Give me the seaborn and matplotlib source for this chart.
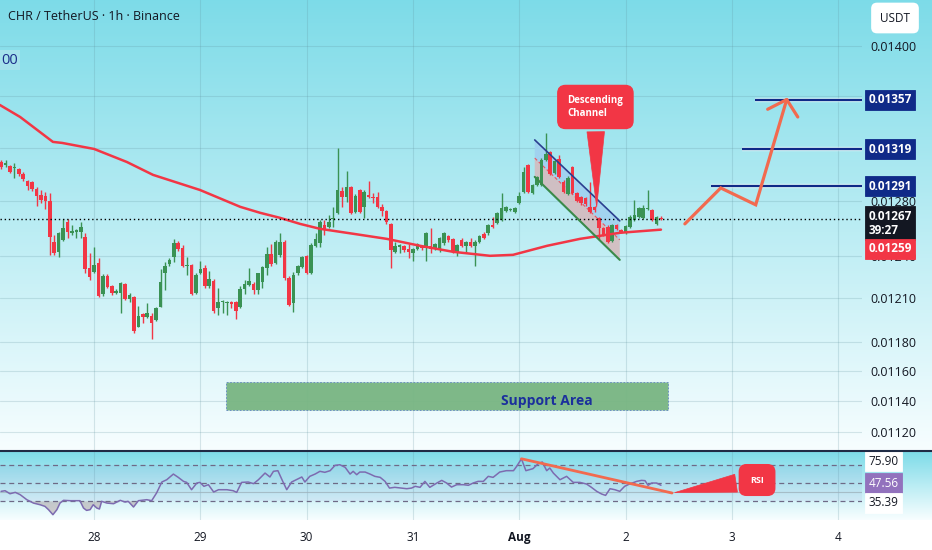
import numpy as np
import pandas as pd
import matplotlib
matplotlib.use("Agg")
import matplotlib.pyplot as plt
import matplotlib.dates as mdates
import matplotlib.patheffects as pe
from matplotlib.patches import Polygon, Rectangle
from matplotlib.lines import Line2D
from matplotlib.ticker import NullLocator, NullFormatter
import seaborn as sns

sns.set_style("white")
plt.rcParams["font.family"] = ["Open Sans", "DejaVu Sans"]

## CHR / USDT 1h candles
start = pd.Timestamp("2023-07-27 03:00")

opens = [0.013092, 0.013070, 0.013062, 0.013047, 0.013040, 0.013002, 0.012950, 0.012942, 0.012890, 0.012845,
         0.012838, 0.012801, 0.012502, 0.012430, 0.012516, 0.012647, 0.012567, 0.012574, 0.012574, 0.012538,
         0.012315, 0.012287, 0.012351, 0.012132, 0.012258, 0.012188, 0.012139, 0.012139, 0.012202, 0.012097,
         0.012111, 0.011903, 0.011992, 0.011972, 0.011979, 0.011951, 0.012041, 0.012280, 0.012344, 0.012394,
         0.012494, 0.012458, 0.012329, 0.012337, 0.012139, 0.012280, 0.012315, 0.012188, 0.012223, 0.012034,
         0.012076, 0.012069, 0.012076, 0.012076, 0.012041, 0.012167, 0.012195, 0.012202, 0.012160, 0.012216,
         0.012315, 0.012415, 0.012351, 0.012408, 0.012502, 0.012244, 0.012069, 0.012280, 0.012322, 0.012401,
         0.012280, 0.012473, 0.012494, 0.012625, 0.012610, 0.012668, 0.012713, 0.012875, 0.012830, 0.012905,
         0.012720, 0.012882, 0.012757, 0.012845, 0.012830, 0.012830, 0.012757, 0.012728, 0.012632, 0.012430,
         0.012466, 0.012473, 0.012451, 0.012422, 0.012451, 0.012473, 0.012458, 0.012473, 0.012458, 0.012444,
         0.012494, 0.012545, 0.012523, 0.012422, 0.012516, 0.012473, 0.012502, 0.012473, 0.012502, 0.012560,
         0.012567, 0.012625, 0.012639, 0.012661, 0.012728, 0.012735, 0.012720, 0.012786, 0.012867, 0.013070,
         0.012860, 0.012920, 0.012920, 0.013107, 0.013168, 0.013010, 0.013115, 0.012942, 0.012852, 0.013055,
         0.012860, 0.012830, 0.012823, 0.012757, 0.012757, 0.012676, 0.012603, 0.012610, 0.012509, 0.012625,
         0.012589, 0.012567, 0.012610, 0.012661, 0.012683, 0.012676, 0.012742, 0.012735, 0.012632, 0.012676]
highs = [0.013107, 0.013107, 0.013070, 0.013085, 0.013047, 0.013017, 0.012957, 0.012950, 0.012905, 0.012882,
         0.012867, 0.012860, 0.012553, 0.012574, 0.012668, 0.012668, 0.012625, 0.012596, 0.012647, 0.012567,
         0.012422, 0.012466, 0.012386, 0.012273, 0.012273, 0.012195, 0.012167, 0.012216, 0.012209, 0.012139,
         0.012118, 0.012048, 0.011999, 0.012069, 0.011999, 0.012041, 0.012308, 0.012358, 0.012386, 0.012523,
         0.012509, 0.012480, 0.012394, 0.012344, 0.012280, 0.012365, 0.012337, 0.012294, 0.012237, 0.012174,
         0.012090, 0.012083, 0.012083, 0.012083, 0.012188, 0.012230, 0.012315, 0.012216, 0.012280, 0.012329,
         0.012466, 0.012487, 0.012516, 0.012567, 0.012516, 0.012258, 0.012287, 0.012337, 0.012401, 0.012408,
         0.012494, 0.012567, 0.012661, 0.012661, 0.012698, 0.012757, 0.013198, 0.012905, 0.013025, 0.012912,
         0.012852, 0.012890, 0.012882, 0.012950, 0.012860, 0.012867, 0.012779, 0.012735, 0.012639, 0.012502,
         0.012487, 0.012480, 0.012487, 0.012458, 0.012494, 0.012480, 0.012574, 0.012603, 0.012494, 0.012538,
         0.012574, 0.012553, 0.012531, 0.012487, 0.012531, 0.012509, 0.012531, 0.012516, 0.012553, 0.012574,
         0.012632, 0.012683, 0.012720, 0.012860, 0.012764, 0.012750, 0.012757, 0.012867, 0.013055, 0.013077,
         0.012927, 0.012987, 0.013122, 0.013313, 0.013175, 0.013107, 0.013145, 0.012957, 0.012987, 0.013062,
         0.012867, 0.012838, 0.012830, 0.012942, 0.012764, 0.012683, 0.012610, 0.012625, 0.012632, 0.012632,
         0.012596, 0.012625, 0.012698, 0.012808, 0.012757, 0.012772, 0.012882, 0.012742, 0.012691, 0.012691]
lows = [0.013040, 0.013055, 0.013010, 0.012972, 0.012987, 0.012950, 0.012882, 0.012875, 0.012764, 0.012786,
        0.012742, 0.012408, 0.012408, 0.012394, 0.012509, 0.012531, 0.012553, 0.012531, 0.012531, 0.012280,
        0.012230, 0.012280, 0.012111, 0.012118, 0.012174, 0.012125, 0.012132, 0.011999, 0.012090, 0.012076,
        0.011862, 0.011903, 0.011930, 0.011965, 0.011821, 0.011944, 0.012041, 0.012160, 0.012329, 0.012358,
        0.012437, 0.012322, 0.012266, 0.012125, 0.012132, 0.012273, 0.012174, 0.012174, 0.011999, 0.011986,
        0.011999, 0.011986, 0.012034, 0.011958, 0.012034, 0.012132, 0.012188, 0.012132, 0.012132, 0.012174,
        0.012266, 0.012329, 0.012344, 0.012394, 0.012230, 0.012048, 0.012006, 0.012266, 0.012315, 0.012273,
        0.012273, 0.012466, 0.012466, 0.012553, 0.012603, 0.012610, 0.012705, 0.012757, 0.012793, 0.012705,
        0.012713, 0.012713, 0.012676, 0.012823, 0.012786, 0.012750, 0.012691, 0.012632, 0.012315, 0.012422,
        0.012422, 0.012430, 0.012386, 0.012365, 0.012444, 0.012444, 0.012365, 0.012422, 0.012444, 0.012430,
        0.012480, 0.012502, 0.012422, 0.012401, 0.012466, 0.012422, 0.012466, 0.012329, 0.012494, 0.012523,
        0.012553, 0.012603, 0.012632, 0.012654, 0.012720, 0.012728, 0.012713, 0.012779, 0.012860, 0.012860,
        0.012852, 0.012912, 0.012912, 0.013100, 0.012995, 0.013002, 0.012972, 0.012860, 0.012845, 0.012852,
        0.012793, 0.012772, 0.012764, 0.012713, 0.012720, 0.012516, 0.012545, 0.012494, 0.012502, 0.012589,
        0.012567, 0.012560, 0.012603, 0.012654, 0.012676, 0.012668, 0.012735, 0.012654, 0.012625, 0.012661]
closes = [0.013055, 0.013085, 0.013017, 0.013055, 0.013002, 0.012965, 0.012912, 0.012890, 0.012838, 0.012808,
          0.012801, 0.012538, 0.012422, 0.012567, 0.012603, 0.012574, 0.012582, 0.012589, 0.012610, 0.012308,
          0.012251, 0.012337, 0.012118, 0.012258, 0.012181, 0.012139, 0.012153, 0.012209, 0.012097, 0.012125,
          0.011876, 0.011979, 0.011972, 0.011999, 0.011930, 0.012034, 0.012216, 0.012329, 0.012372, 0.012494,
          0.012451, 0.012329, 0.012337, 0.012132, 0.012266, 0.012308, 0.012188, 0.012237, 0.012013, 0.012076,
          0.012083, 0.012076, 0.012062, 0.012013, 0.012167, 0.012202, 0.012223, 0.012160, 0.012280, 0.012322,
          0.012415, 0.012344, 0.012502, 0.012502, 0.012244, 0.012055, 0.012266, 0.012329, 0.012394, 0.012280,
          0.012480, 0.012523, 0.012647, 0.012589, 0.012647, 0.012676, 0.012882, 0.012830, 0.012905, 0.012713,
          0.012838, 0.012720, 0.012867, 0.012830, 0.012823, 0.012757, 0.012728, 0.012647, 0.012444, 0.012473,
          0.012480, 0.012444, 0.012430, 0.012451, 0.012487, 0.012458, 0.012567, 0.012451, 0.012487, 0.012531,
          0.012567, 0.012516, 0.012437, 0.012480, 0.012473, 0.012502, 0.012473, 0.012502, 0.012545, 0.012531,
          0.012625, 0.012610, 0.012713, 0.012750, 0.012757, 0.012742, 0.012750, 0.012838, 0.013017, 0.012867,
          0.012920, 0.012980, 0.013107, 0.013153, 0.013002, 0.013100, 0.012980, 0.012867, 0.012972, 0.012860,
          0.012801, 0.012786, 0.012779, 0.012720, 0.012735, 0.012603, 0.012553, 0.012502, 0.012625, 0.012596,
          0.012574, 0.012618, 0.012683, 0.012698, 0.012750, 0.012750, 0.012750, 0.012661, 0.012683, 0.012670]

# red moving average (hours after start, price)
ma_hours = [-0.3, 4.3, 11.7, 13.8, 21, 28.4, 34.3, 44.9, 54, 58.5, 63, 67.5, 72, 79.5, 87.1, 94.6, 102,
            110.4, 115.6, 123.3, 130.7, 139.7, 149]
ma_vals = [0.013531, 0.013437, 0.013245, 0.013237, 0.013191, 0.013092, 0.012995, 0.012882, 0.012757, 0.012713,
           0.012676, 0.012632, 0.012596, 0.012560, 0.012523, 0.012473, 0.012430, 0.012401, 0.012408, 0.012473,
           0.012523, 0.012567, 0.012590]

# RSI
rsi_hours = [0, 0.9, 2.0, 3.2, 4.3, 5.8, 7.3, 8.8, 9.9, 10.7, 11.7, 12.6, 13.3, 14.1, 15.6, 17.8, 18.6, 19.3,
             20.1, 20.8, 21.6, 22.2, 22.7, 23.9, 25.4, 26.9, 28.0, 28.7, 29.9, 31.0, 32.9, 34.0, 35.1, 36.3,
             37.4, 38.9, 40.0, 41.2, 41.9, 43.0, 44.2, 44.9, 45.8, 46.8, 48.0, 49.1, 51.0, 52.4, 53.2, 54.3,
             55.8, 57.0, 58.1, 59.6, 60.7, 61.5, 62.5, 63.6, 64.5, 65.6, 67.1, 67.9, 68.6, 69.7, 70.9, 72.0,
             73.1, 74.3, 75.4, 76.5, 77.7, 78.8, 79.5, 80.3, 81.0, 82.2, 83.3, 84.4, 85.6, 86.7, 87.7, 88.9,
             90.4, 91.6, 92.7, 93.5, 94.6, 95.7, 96.8, 98.4, 99.5, 100.6, 101.7, 102.9, 104.4, 105.5, 106.6,
             107.7, 108.9, 110.0, 111.1, 112.6, 114.1, 115.7, 116.4, 117.5, 118.5, 120.1, 121.2, 122.2, 123.2,
             123.9, 124.7, 126.2, 127.7, 129.2, 130.7, 132.2, 133.3, 134.5, 135.6, 136.5, 137.5, 138.6, 139.7,
             140.8, 141.9, 143.5, 144.6, 145.4, 146.1, 146.9, 148.0, 149.0]
rsi_vals = [40.9, 41.6, 38.3, 39.8, 37.3, 31.8, 28.1, 26.3, 24.5, 20.9, 15.4, 20.9, 28.1, 31.1, 30.7, 30.7, 22.7,
            20.1, 20.9, 26.3, 22.7, 21.6, 30.0, 28.1, 27.4, 31.1, 29.2, 30.0, 23.8, 30.7, 31.8, 30.7, 39.1, 51.1,
            53.6, 59.8, 56.2, 51.8, 50.7, 42.7, 50.0, 50.7, 46.4, 48.2, 40.2, 42.7, 42.7, 41.6, 39.8, 50.7, 51.1,
            49.3, 53.6, 60.9, 56.6, 62.8, 63.5, 51.8, 42.7, 51.1, 54.7, 56.6, 51.1, 57.3, 59.8, 62.8, 61.7, 63.5,
            69.3, 70.0, 67.1, 59.8, 62.8, 59.1, 62.0, 62.0, 59.8, 57.3, 56.2, 51.8, 44.5, 45.3, 44.5, 43.8, 44.5,
            46.4, 45.3, 51.8, 45.3, 50.0, 52.9, 50.0, 45.6, 48.2, 48.2, 47.5, 50.0, 51.8, 51.8, 57.3, 56.2, 62.0,
            63.5, 63.5, 68.1, 76.5, 63.5, 65.7, 70.8, 73.0, 63.5, 66.4, 60.9, 53.6, 57.3, 50.7, 50.7, 48.9, 45.3,
            40.9, 38.0, 36.5, 43.8, 42.7, 40.9, 46.4, 48.9, 51.8, 52.9, 52.6, 47.5, 50.0, 50.0, 47.6]
rsi_levels = [70, 50, 30]
rsi_badges = [75.90, 47.56, 35.39]
rsi_trend_hours = [117.5, 151.5]
rsi_trend_vals = [76.5, 39.1]

# drawings
last_price = 0.01267
ma_last = 0.01259
targets = [0.01357, 0.01319, 0.01291]
target_from = [170.2, 167.3, 160.3]
support_hours = [50.8, 150.6]
support_prices = [0.011343, 0.011528]
channel_hours = [120.5, 139.7]
channel_top = [0.013260, 0.012654]
channel_mid = [0.013122, 0.012516]
channel_bot = [0.012980, 0.012372]
proj_hours = [154.4, 162.5, 170.4, 177.4]
proj_prices = [0.012632, 0.012897, 0.012772, 0.013573]
head_hours = [173.1, 177.4, 179.9]
head_prices = [0.013497, 0.013573, 0.013437]

price_ticks = [0.0140, 0.0136, 0.0132, 0.0128, 0.0124, 0.0121, 0.0118, 0.0116, 0.0114, 0.0112]
price_labels = ["0.01400", "", "", "0.01280", "0.01240", "0.01210", "0.01180", "0.01160", "0.01140", "0.01120"]

GREEN = "#3a9254"
RED = "#f23645"
NAVY = "#0f2a88"
CORAL = "#f26a4f"
INK = "#131722"


def hx(h):
    return mdates.date2num(start) + np.asarray(h, dtype=float) / 24.0


W, H = 932, 550
fig = plt.figure(figsize=(W / 100, H / 100), dpi=100)

## background gradient (main pane, rsi pane, date strip)
top_c = np.array([0.49, 0.86, 0.91])
bot_c = np.array([0.97, 0.995, 1.0])
def vgrad(n):
    t = np.linspace(0, 1, n)[:, None]
    return top_c * (1 - t) + bot_c * t
bg_img = np.vstack([vgrad(451), vgrad(69), np.ones((30, 3))])[:, None, :]
bg = fig.add_axes([0, 0, 1, 1], zorder=-1)
bg.imshow(bg_img, aspect="auto", extent=[0, 1, 0, 1], interpolation="bilinear")
bg.set_axis_off()

ax = fig.add_axes([0, 99 / H, 862 / W, 451 / H])
axr = fig.add_axes([0, 30 / H, 862 / W, 69 / H], sharex=ax)
for a in (ax, axr):
    a.set_facecolor("none")
    for s in a.spines.values():
        s.set_visible(False)

## candles
x = hx(np.arange(len(closes)))
o, hi, lo, c = map(np.array, (opens, highs, lows, closes))
cols = np.where(c >= o, GREEN, RED)
ax.vlines(x, lo, hi, colors=cols, lw=1.0, zorder=3)
ax.bar(x, np.maximum(np.abs(c - o), 0.000006), bottom=np.minimum(o, c), width=0.8 / 24,
       color=cols, linewidth=0, zorder=4)

sns.lineplot(x=hx(ma_hours), y=ma_vals, ax=ax, color=RED, lw=1.8, sort=False, zorder=5)

ax.set_yscale("log")
ax.set_ylim(0.011078, 0.014377)
ax.set_xlim(hx(-0.25), hx(194.4))
ax.yaxis.tick_right()
ax.set_yticks(price_ticks)
ax.set_yticklabels(price_labels)
ax.yaxis.set_minor_locator(NullLocator())
ax.yaxis.set_minor_formatter(NullFormatter())
ax.tick_params(axis="y", length=0, pad=6, labelsize=9, labelcolor=INK)
ax.tick_params(axis="x", length=0, labelbottom=False)
ax.set_xlabel("")
ax.set_ylabel("")
ax.grid(True, color="#5f8f9b", alpha=0.22, lw=0.8)

# current price dotted line
ax.axhline(last_price, color="black", lw=1.0, ls=(0, (1, 2)), zorder=6)

## descending channel (fill behind the candles)
ch_x = hx(channel_hours)
ax.add_patch(Polygon([(ch_x[0], channel_top[0]), (ch_x[1], channel_top[1]),
                      (ch_x[1], channel_mid[1]), (ch_x[0], channel_mid[0])],
                     closed=True, fc="#9fcff0", alpha=0.85, lw=0, zorder=2))
ax.add_patch(Polygon([(ch_x[0], channel_mid[0]), (ch_x[1], channel_mid[1]),
                      (ch_x[1], channel_bot[1]), (ch_x[0], channel_bot[0])],
                     closed=True, fc="#d6b8bb", alpha=0.85, lw=0, zorder=2))
ax.plot(ch_x, channel_top, color="#2b3f8f", lw=1.2, zorder=6)
ax.plot(ch_x, channel_bot, color="#3a8a4a", lw=1.5, zorder=6)
ax.plot(ch_x, channel_mid, color=RED, lw=0.8, ls=(0, (3, 2)), alpha=0.8, zorder=2.5)

ax.annotate("Descending\nChannel", xy=(hx(134.5), 0.012735), xytext=(hx(134.2), 0.013515),
            ha="center", va="center", multialignment="left", fontsize=7, color="white",
            weight="bold", linespacing=1.2, zorder=8,
            bbox=dict(boxstyle="round,pad=1.0,rounding_size=0.8", fc=RED, ec=RED),
            arrowprops=dict(arrowstyle="wedge,tail_width=1.8,shrink_factor=0.5", fc=RED, ec=RED, lw=0.5))

## targets and projection
for p, h0 in zip(targets, target_from):
    ax.hlines(p, hx(h0), hx(200), color=NAVY, lw=1.6, zorder=6,
              path_effects=[pe.withStroke(linewidth=3.2, foreground="white", alpha=0.55)])
ax.plot(hx(proj_hours), proj_prices, color=CORAL, lw=2.3, solid_capstyle="round",
        solid_joinstyle="miter", zorder=7)
ax.plot(hx(head_hours), head_prices, color=CORAL, lw=2.3, solid_capstyle="round", zorder=7)

## support area
ax.add_patch(Rectangle((hx(support_hours[0]), support_prices[0]),
                       hx(support_hours[1]) - hx(support_hours[0]),
                       support_prices[1] - support_prices[0],
                       fc="#78b582", ec="#5b7fc4", lw=0.6, ls=(0, (2, 2)), alpha=0.95, zorder=4))
ax.text(hx(123.3), 0.011403, "Support Area", ha="center", va="center", fontsize=10,
        weight="bold", color="#1b2f9c", zorder=6)

## price badges
def badge(axis, val, text, fc, tc, dy=0, size=8.5, bold=True, ec=None):
    axis.annotate(text, xy=(1, val), xycoords=("axes fraction", "data"),
                  xytext=(4.5, dy), textcoords="offset points", ha="left", va="center",
                  fontsize=size, color=tc, weight="bold" if bold else "normal",
                  linespacing=1.05, annotation_clip=False, zorder=10,
                  bbox=dict(boxstyle="square,pad=0.3", fc=fc, ec=ec or fc, lw=0.6))

for p in targets:
    badge(ax, p, f"{p:.5f}", NAVY, "white")
badge(ax, last_price, "0.01267\n39:27", INK, "white", dy=-3.3)
badge(ax, ma_last, f"{ma_last:.5f}", RED, "white", dy=-13.7)

## RSI pane
rx = hx(rsi_hours)
rv = np.array(rsi_vals)
axr.axhspan(30, 70, color="#7e57c2", alpha=0.07, lw=0)
axr.axhline(40, color="#9fb3bd", lw=0.8, alpha=0.8)
for lv in rsi_levels:
    axr.axhline(lv, color="#6e6a86", lw=0.9, ls=(0, (4, 3)))
axr.fill_between(rx, rv, 30, where=rv < 30, interpolate=True, color="#a99393", alpha=0.45, lw=0)
sns.lineplot(x=rx, y=rv, ax=axr, color="#7d6bb0", lw=1.1, sort=False, zorder=4)
axr.plot(hx(rsi_trend_hours), rsi_trend_vals, color=CORAL, lw=2.0, zorder=5)
axr.annotate("RSI", xy=(hx(rsi_trend_hours[1]), rsi_trend_vals[1]), xytext=(hx(170.7), 53.3),
             ha="center", va="center", fontsize=6.5, color="white", weight="bold", zorder=8,
             bbox=dict(boxstyle="round,pad=1.2,rounding_size=0.8", fc=RED, ec=RED),
             arrowprops=dict(arrowstyle="wedge,tail_width=2.0,shrink_factor=0.5", fc=RED, ec=RED, lw=0.5))
axr.set_ylim(9.6, 85)
axr.set_yticks([])
axr.set_xlabel("")
axr.set_ylabel("")
badge(axr, rsi_badges[0], "75.90", "white", INK, dy=-1.5, bold=False)
badge(axr, rsi_badges[1], "47.56", "#9272bd", "white", dy=1.5, bold=False)
badge(axr, rsi_badges[2], "35.39", "white", INK, dy=-4.5, bold=False)

days = pd.date_range("2023-07-28", "2023-08-04", freq="D")
day_labels = ["Aug" if d.day == 1 else str(d.day) for d in days]
axr.set_xticks(mdates.date2num(days))
axr.set_xticklabels(day_labels)
axr.tick_params(axis="x", length=0, pad=8, labelsize=8.5, labelcolor=INK)
for t in axr.get_xticklabels():
    if t.get_text() == "Aug":
        t.set_fontweight("bold")
axr.grid(True, axis="x", color="#5f8f9b", alpha=0.22, lw=0.8)
axr.set_xlim(hx(-0.25), hx(194.4))

# pane separator
fig.add_artist(Line2D([0, 1], [99 / H, 99 / H], color="#1f2b45", lw=1.5))

## header texts
fig.text(8 / W, 1 - 16 / H, "CHR / TetherUS · 1h · Binance", fontsize=9, color=INK, va="center")
fig.text(1 / W, 1 - 60 / H, "00", fontsize=10.5, color="#1c2d8a", va="center",
         bbox=dict(boxstyle="square,pad=0.15", fc="#a5e2ec", ec="none"))
fig.text(895 / W, 1 - 18 / H, "USDT", fontsize=8.5, color=INK, va="center", ha="center",
         bbox=dict(boxstyle="round,pad=0.75,rounding_size=0.5", fc="white", ec="none"))

fig.savefig("out.png", dpi=100)
